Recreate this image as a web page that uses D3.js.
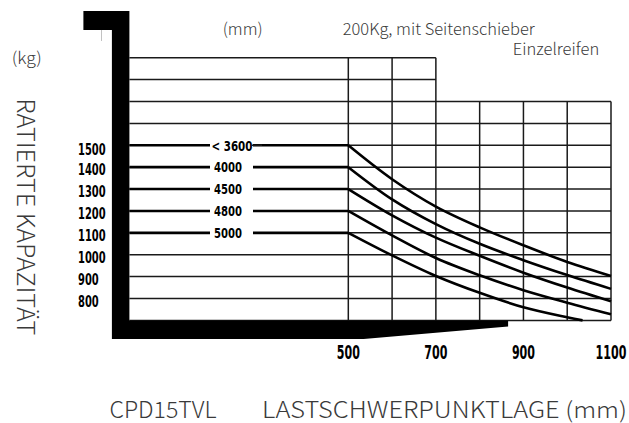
<!DOCTYPE html>
<html>
<head>
<meta charset="utf-8">
<script src="https://cdn.jsdelivr.net/npm/d3@7"></script>
<style>
  html, body { margin: 0; padding: 0; background: #fff; }
  svg { display: block; }
  .lt { font-family: "Noto Sans CJK SC", "Noto Sans", sans-serif; font-weight: 300; fill: #3a3a3a; }
  .nb { font-family: "Liberation Sans Narrow", "DejaVu Sans Condensed", sans-serif; font-weight: bold; fill: #000; }
</style>
</head>
<body>
<script>
// ---- data ----
const loadCenters = [500, 600, 700, 800, 900, 1000, 1100];
const xTickLabels = [500, 700, 900, 1100];
const yTickLabels = [1500, 1400, 1300, 1200, 1100, 1000, 900, 800];
const gridKg = [1900, 1800, 1700, 1600, 1500, 1400, 1300, 1200, 1100, 1000, 900, 800, 700];
const gridMm = [500, 600, 700, 800, 900, 1000, 1100];
const liftHeights = ["< 3600", "4000", "4500", "4800", "5000"];
const cap3600 = [1500, 1345, 1220, 1125, 1043, 967, 903];
const cap4000 = [1400, 1253, 1140, 1050, 975, 907, 844];
const cap4500 = [1300, 1180, 1078, 995, 918, 850, 787];
const cap4800 = [1200, 1088, 985, 906, 838, 781, 728];
const centers5000 = [500, 600, 700, 800, 900, 1000, 1035];
const cap5000 = [1100, 997, 903, 826, 760, 714, 700];

const W = 629, H = 423;
const svg = d3.select("body").append("svg").attr("width", W).attr("height", H);

const x = d3.scaleLinear().domain([0, 1100]).range([129.4, 611]);
const y = d3.scaleLinear().domain([700, 1900]).range([320.4, 57.7]);

// ---- grid ----
const g = svg.append("g");
g.selectAll("line.h").data(gridKg).join("line")
  .attr("x1", x(0)).attr("x2", d => d >= 1800 ? x(700) : x(1100))
  .attr("y1", d => y(d)).attr("y2", d => y(d))
  .attr("stroke", "#1a1a1a").attr("stroke-width", 1.5);
g.selectAll("line.v").data(gridMm).join("line")
  .attr("x1", d => x(d)).attr("x2", d => x(d))
  .attr("y1", d => d <= 700 ? y(1900) : y(1700)).attr("y2", y(700))
  .attr("stroke", "#1a1a1a").attr("stroke-width", 1.5);

// ---- black frame ----
const x0 = x(0), yb = y(700);
svg.append("path")
  .attr("d", `M${x0 - 46},11 H${x0} V${yb} H${x(865)} V${yb + 6} L${x(535)},${yb + 18.5} H${x0 - 17.5} V41 H${x0 - 28} V30 H${x0 - 46} Z`)
  .attr("fill", "#000");
svg.append("rect").attr("x", x0 - 28).attr("y", 30).attr("width", 10.5).attr("height", 11).attr("fill", "#fff");

// ---- capacity curves ----
const series = [
  { label: liftHeights[0], xs: loadCenters, ys: cap3600 },
  { label: liftHeights[1], xs: loadCenters, ys: cap4000 },
  { label: liftHeights[2], xs: loadCenters, ys: cap4500 },
  { label: liftHeights[3], xs: loadCenters, ys: cap4800 },
  { label: liftHeights[4], xs: centers5000, ys: cap5000 }
];
const line = d3.line().x(d => x(d[0])).y(d => y(d[1])).curve(d3.curveCatmullRom.alpha(0.5));
series.forEach((s, k) => {
  const pts = s.xs.map((v, i) => [v, s.ys[i]]);
  svg.append("line")
    .attr("x1", x(0)).attr("x2", x(500))
    .attr("y1", y(s.ys[0])).attr("y2", y(s.ys[0]))
    .attr("stroke", "#000").attr("stroke-width", 2.6);
  svg.append("path").attr("d", line(pts))
    .attr("fill", "none").attr("stroke", "#000").attr("stroke-width", 2.6)
    .attr("stroke-linejoin", "round");
  const cy = y(s.ys[0]);
  const wide = s.label.length > 4;
  const w = wide ? 41 : 28;
  const tx = wide ? 232 : 228;
  svg.append("rect").attr("x", 210).attr("y", cy - 7).attr("width", 43).attr("height", 14).attr("fill", "#fff");
  if (wide) {
    svg.append("line").attr("x1", 252).attr("x2", 262).attr("y1", cy).attr("y2", cy)
      .attr("stroke", "#1a1a1a").attr("stroke-width", 1.5);
  }
  svg.append("text").attr("class", "nb")
    .attr("transform", `translate(${tx},${cy + 5.3}) scale(1,1.4)`)
    .attr("text-anchor", "middle")
    .attr("font-size", 10.5)
    .attr("textLength", w).attr("lengthAdjust", "spacingAndGlyphs")
    .text(s.label);
});

// ---- axis labels ----
svg.selectAll("text.yl").data(yTickLabels).join("text")
  .attr("class", "nb")
  .attr("transform", (d, i) => `translate(78,${y(d) + (i === 0 ? 10 : 8)}) scale(1,1.45)`)
  .attr("font-size", 11)
  .attr("textLength", d => String(d).length * 6.9).attr("lengthAdjust", "spacingAndGlyphs")
  .text(d => d);
svg.selectAll("text.xl").data(xTickLabels).join("text")
  .attr("class", "nb")
  .attr("transform", d => `translate(${x(d)},358.5) scale(1,1.6)`)
  .attr("text-anchor", "middle")
  .attr("font-size", 12.3)
  .attr("textLength", d => String(d).length * 7.7).attr("lengthAdjust", "spacingAndGlyphs")
  .text(d => d);

// ---- texts ----
svg.append("text").attr("class", "lt").attr("x", 222.7).attr("y", 35).attr("font-size", 16.5)
  .attr("textLength", 40).attr("lengthAdjust", "spacingAndGlyphs").text("(mm)");
svg.append("text").attr("class", "lt").attr("x", 342.7).attr("y", 35).attr("font-size", 16.5)
  .attr("textLength", 192).attr("lengthAdjust", "spacingAndGlyphs").text("200Kg, mit Seitenschieber");
svg.append("text").attr("class", "lt").attr("x", 512.7).attr("y", 55).attr("font-size", 16.5)
  .attr("textLength", 86.5).attr("lengthAdjust", "spacingAndGlyphs").text("Einzelreifen");
svg.append("text").attr("class", "lt").attr("x", 11.7).attr("y", 64).attr("font-size", 16.5)
  .attr("textLength", 30).attr("lengthAdjust", "spacingAndGlyphs").text("(kg)");
svg.append("text").attr("class", "lt").attr("transform", "translate(16.5,216.7) rotate(90)")
  .attr("text-anchor", "middle").attr("font-size", 24)
  .attr("textLength", 237).attr("lengthAdjust", "spacingAndGlyphs").text("RATIERTE KAPAZITÄT");
svg.append("text").attr("class", "lt").attr("x", 109.5).attr("y", 418).attr("font-size", 22.5)
  .attr("textLength", 107).attr("lengthAdjust", "spacingAndGlyphs").text("CPD15TVL");
svg.append("text").attr("class", "lt").attr("x", 262).attr("y", 418).attr("font-size", 22.5)
  .attr("textLength", 365).attr("lengthAdjust", "spacingAndGlyphs").text("LASTSCHWERPUNKTLAGE (mm)");
</script>
</body>
</html>
